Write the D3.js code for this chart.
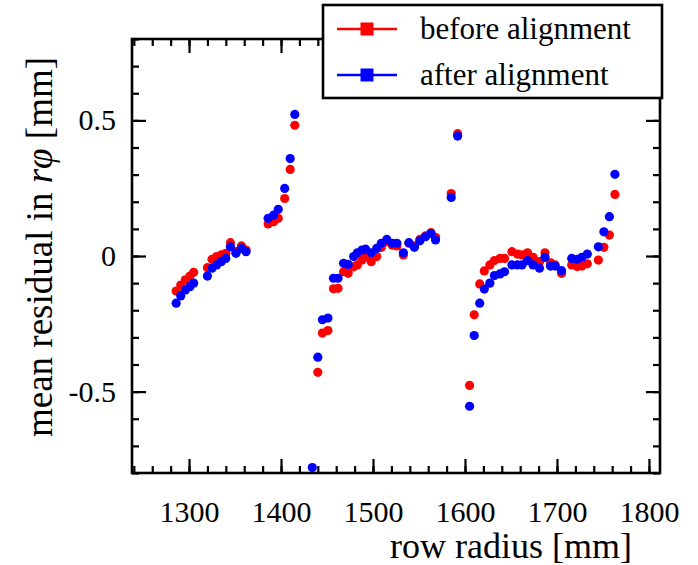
<!DOCTYPE html>
<html>
<head>
<meta charset="utf-8">
<script src="https://cdn.jsdelivr.net/npm/d3@7"></script>
<style>
  html, body { margin: 0; padding: 0; background: #fff; }
  svg { display: block; font-family: "Liberation Serif", "Times New Roman", serif; }
</style>
</head>
<body>
<svg id="chart" width="698" height="565"></svg>
<script>
// ---- data ----
const radius = [
  1286, 1291, 1296, 1301, 1305, 1320, 1325, 1330, 1335, 1340, 1345, 1351, 1357, 1362,
  1386, 1392, 1397, 1404, 1410, 1415,
  1434, 1440, 1445, 1451, 1457, 1462, 1468, 1473, 1479, 1483, 1488, 1492, 1498, 1504,
  1509, 1515, 1521, 1526, 1533, 1539, 1545, 1551, 1557, 1563, 1568,
  1585, 1592,
  1605, 1610, 1616, 1621, 1627, 1632, 1638, 1643, 1651, 1657, 1662, 1668, 1674, 1681,
  1687, 1693, 1698, 1705,
  1716, 1722, 1727, 1733, 1745, 1751, 1757, 1763
];
const beforeAlignment = [
  -0.129, -0.107, -0.088, -0.074, -0.060, -0.043, -0.012, -0.002, 0.004, 0.010, 0.049, 0.016, 0.037, 0.022,
  0.118, 0.126, 0.139, 0.212, 0.319, 0.482,
  null, -0.429, -0.284, -0.275, -0.121, -0.119, -0.058, -0.064, -0.040, -0.033, -0.015, -0.002, -0.021, -0.002,
  0.032, 0.053, 0.040, 0.037, 0.004, 0.047, 0.037, 0.061, 0.074, 0.086, 0.069,
  0.230, 0.451,
  -0.477, -0.217, -0.103, -0.055, -0.033, -0.017, -0.009, -0.009, 0.016, 0.007, 0.004, 0.012, -0.005, -0.021,
  0.012, -0.025, -0.033, -0.064,
  -0.033, -0.039, -0.037, -0.029, -0.015, 0.032, 0.077, 0.227
];
const afterAlignment = [
  -0.174, -0.147, -0.125, -0.113, -0.100, -0.074, -0.045, -0.033, -0.021, -0.009, 0.034, 0.010, 0.028, 0.016,
  0.139, 0.151, 0.172, 0.249, 0.359, 0.522,
  -0.780, -0.373, -0.235, -0.229, -0.082, -0.082, -0.027, -0.031, -0.002, 0.012, 0.022, 0.025, 0.012, 0.028,
  0.047, 0.061, 0.047, 0.047, 0.012, 0.049, 0.032, 0.056, 0.071, 0.083, 0.059,
  0.216, 0.442,
  -0.554, -0.293, -0.174, -0.122, -0.100, -0.072, -0.066, -0.058, -0.033, -0.033, -0.033, -0.017, -0.033, -0.045,
  -0.005, -0.037, -0.037, -0.054,
  -0.009, -0.012, -0.005, 0.007, 0.034, 0.089, 0.145, 0.301
];
const seriesNames = ["before alignment", "after alignment"];
const seriesColors = ["#ff0000", "#0000ff"];
const xMajorTicks = [1300, 1400, 1500, 1600, 1700, 1800];
const yMajorTicks = [-0.5, 0, 0.5];
const yTickLabels = ["-0.5", "0", "0.5"];
const xTitle = "row radius [mm]";

// ---- layout ----
const svg = d3.select("#chart");
const L = 132, R = 660, T = 39, B = 473;
const x = d3.scaleLinear().domain([1238, 1812]).range([L, R]);
const y = d3.scaleLinear().domain([-0.8, 0.8]).range([B, T]);

const xMinor = d3.range(1240, 1812, 20);
const yMinor = d3.range(-8, 9).map(d => d / 10);

function styleAxis(g) {
  g.select(".domain").remove();
  g.selectAll(".tick line").attr("stroke", "#000").attr("stroke-width", 2.2);
  g.selectAll(".tick text").attr("fill", "#000").style("font-size", "30px")
    .style("font-family", '"Liberation Serif", "Times New Roman", serif');
}

// minor ticks
svg.append("g").attr("transform", `translate(0,${B})`)
  .call(d3.axisBottom(x).tickValues(xMinor).tickSize(-7).tickFormat("")).call(styleAxis);
svg.append("g").attr("transform", `translate(0,${T})`)
  .call(d3.axisTop(x).tickValues(xMinor).tickSize(-7).tickFormat("")).call(styleAxis);
svg.append("g").attr("transform", `translate(${L},0)`)
  .call(d3.axisLeft(y).tickValues(yMinor).tickSize(-7).tickFormat("")).call(styleAxis);
svg.append("g").attr("transform", `translate(${R},0)`)
  .call(d3.axisRight(y).tickValues(yMinor).tickSize(-7).tickFormat("")).call(styleAxis);

// major ticks
svg.append("g").attr("transform", `translate(0,${B})`)
  .call(d3.axisBottom(x).tickValues(xMajorTicks).tickSize(-14).tickPadding(28).tickFormat(d3.format("d")))
  .call(styleAxis);
svg.append("g").attr("transform", `translate(0,${T})`)
  .call(d3.axisTop(x).tickValues(xMajorTicks).tickSize(-14).tickFormat("")).call(styleAxis);
svg.append("g").attr("transform", `translate(${L},0)`)
  .call(d3.axisLeft(y).tickValues(yMajorTicks).tickSize(-14).tickPadding(16)
    .tickFormat((d, i) => yTickLabels[i]))
  .call(styleAxis);
svg.append("g").attr("transform", `translate(${R},0)`)
  .call(d3.axisRight(y).tickValues(yMajorTicks).tickSize(-14).tickFormat("")).call(styleAxis);

// clip
svg.append("clipPath").attr("id", "plotclip")
  .append("rect").attr("x", L).attr("y", T).attr("width", R - L).attr("height", B - T);

// points
const series = [beforeAlignment, afterAlignment];
series.forEach((vals, si) => {
  const pts = radius.map((r, i) => ({ r, v: vals[i] })).filter(d => d.v !== null);
  svg.append("g").attr("clip-path", "url(#plotclip)")
    .selectAll("circle").data(pts).join("circle")
    .attr("cx", d => x(d.r)).attr("cy", d => y(d.v)).attr("r", 4.6)
    .attr("fill", seriesColors[si]);
});

// frame
svg.append("rect").attr("x", L).attr("y", T).attr("width", R - L).attr("height", B - T)
  .attr("fill", "none").attr("stroke", "#000").attr("stroke-width", 2.6);

// axis titles
svg.append("text").attr("x", 632).attr("y", 558).attr("text-anchor", "end")
  .style("font-size", "36px").attr("fill", "#000").text(xTitle);

const yt = svg.append("text").attr("transform", "translate(52,247) rotate(-90)")
  .attr("text-anchor", "middle").style("font-size", "37px").attr("fill", "#000");
yt.append("tspan").text("mean residual in ");
yt.append("tspan").style("font-style", "italic").text("rφ");
yt.append("tspan").text(" [mm]");

// legend
const lg = svg.append("g");
lg.append("rect").attr("x", 323).attr("y", 5).attr("width", 339).attr("height", 93)
  .attr("fill", "#fff").attr("stroke", "#000").attr("stroke-width", 2.6);
seriesNames.forEach((name, i) => {
  const cy = 29 + i * 46;
  lg.append("line").attr("x1", 337).attr("x2", 397).attr("y1", cy).attr("y2", cy)
    .attr("stroke", seriesColors[i]).attr("stroke-width", 2.5);
  lg.append("rect").attr("x", 367 - 6.5).attr("y", cy - 6.5).attr("width", 13).attr("height", 13)
    .attr("fill", seriesColors[i]);
  lg.append("text").attr("x", 420).attr("y", cy + 10).style("font-size", "31px")
    .attr("fill", "#000").text(name);
});
</script>
</body>
</html>
